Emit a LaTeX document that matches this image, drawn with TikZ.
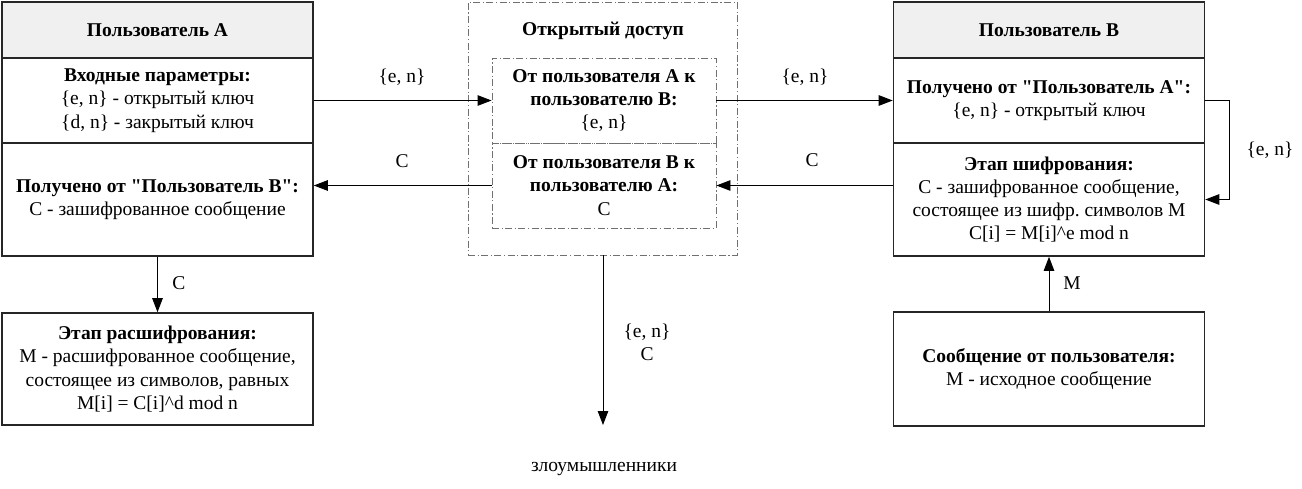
\documentclass[tikz,border=0pt]{standalone}
\usepackage{fontspec}
\setmainfont{Liberation Serif}[Ligatures=TeXOff]
\usetikzlibrary{arrows.meta}
\definecolor{hdrgray}{HTML}{F0F0F0}
\definecolor{dashgray}{HTML}{707070}
\frenchspacing
\begin{document}
\begin{tikzpicture}[x=1pt,y=-1pt,
  every node/.style={font=\fontsize{19.5}{23.3}\selectfont, align=center, inner sep=0pt},
  blk/.style={draw=black!85, line width=1.6pt, minimum width=311pt},
  hdr/.style={blk, fill=hdrgray},
  dd/.style={draw=dashgray, line width=0.9pt, dash pattern=on 7pt off 2.5pt on 1.2pt off 2.5pt},
  arr/.style={draw=black, line width=0.9pt, -{Triangle[length=14pt,width=10.5pt]}},
  lbl/.style={}
]
\useasboundingbox (0,0) rectangle (1302,489);
% User A
\node[hdr, minimum height=56pt] (hA) at (157.5,30) {\textbf{Пользователь А}};
\node[blk, minimum height=85pt] (inA) at (157.5,100.5) {\textbf{Входные параметры:}\\\{e, n\} - открытый ключ\\\{d, n\} - закрытый ключ};
\node[blk, minimum height=113pt] (recvA) at (157.5,199.5) {\textbf{Получено от "Пользователь В":}\\C - зашифрованное сообщение};
\node[blk, minimum height=112pt] (dec) at (157.5,369) {\textbf{Этап расшифрования:}\\M - расшифрованное сообщение,\\состоящее из символов, равных\\M[i] = C[i]\textasciicircum d mod n};
% open access
\node[dd, minimum width=269pt, minimum height=253pt] (open) at (602.5,128.5) {};
\node (openT) at (603,31) {\textbf{Открытый доступ}};
\node[dd, minimum width=224pt, minimum height=85pt] (ab) at (604,100.5) {\textbf{От пользователя А к}\\\textbf{пользователю В:}\\\{e, n\}};
\node[dd, minimum width=224pt, minimum height=85pt] (ba) at (604,185.5) {\textbf{От пользователя В к}\\\textbf{пользователю А:}\\C};
% User B
\node[hdr, minimum height=56pt] (hB) at (1049,30) {\textbf{Пользователь В}};
\node[blk, minimum height=85pt] (recvB) at (1049,100.5) {\textbf{Получено от "Пользователь А":}\\\{e, n\} - открытый ключ};
\node[blk, minimum height=113pt] (enc) at (1049,199.5) {\textbf{Этап шифрования:}\\C - зашифрованное сообщение,\\состоящее из шифр. символов M\\C[i] = M[i]\textasciicircum e mod n};
\node[blk, minimum height=114pt] (msg) at (1049,369) {\textbf{Сообщение от пользователя:}\\M - исходное сообщение};
% attacker
\node (att) at (604,469) {злоумышленники};
\coordinate (attEnd) at (603,425);
% connectors
\draw[arr] (inA.east) -- (ab.west);
\draw[arr] (ab.east) -- (recvB.west);
\draw[arr] (ba.east -| enc.west) -- (ba.east);
\draw[arr] (ba.west) -- (ba.west -| recvA.east);
\draw[arr] (recvA.south) -- (dec.north);
\draw[arr] (msg.north) -- (enc.south);
\draw[arr] (open.south -| attEnd) -- (attEnd);
\draw[arr] (recvB.east) -- ++(24,0) |- (enc.east);
% labels
\node[lbl] (l1) at (402,77) {\{e, n\}};
\node[lbl] (l2) at (402,161) {C};
\node[lbl] (l3) at (805,77) {\{e, n\}};
\node[lbl] (l4) at (812,160) {C};
\node[lbl] (l5) at (179,283) {C};
\node[lbl] (l6) at (1072,283) {M};
\node[lbl] (l7) at (1270,150) {\{e, n\}};
\node[lbl] (l8) at (647,342.5) {\{e, n\}\\C};
\end{tikzpicture}
\end{document}
